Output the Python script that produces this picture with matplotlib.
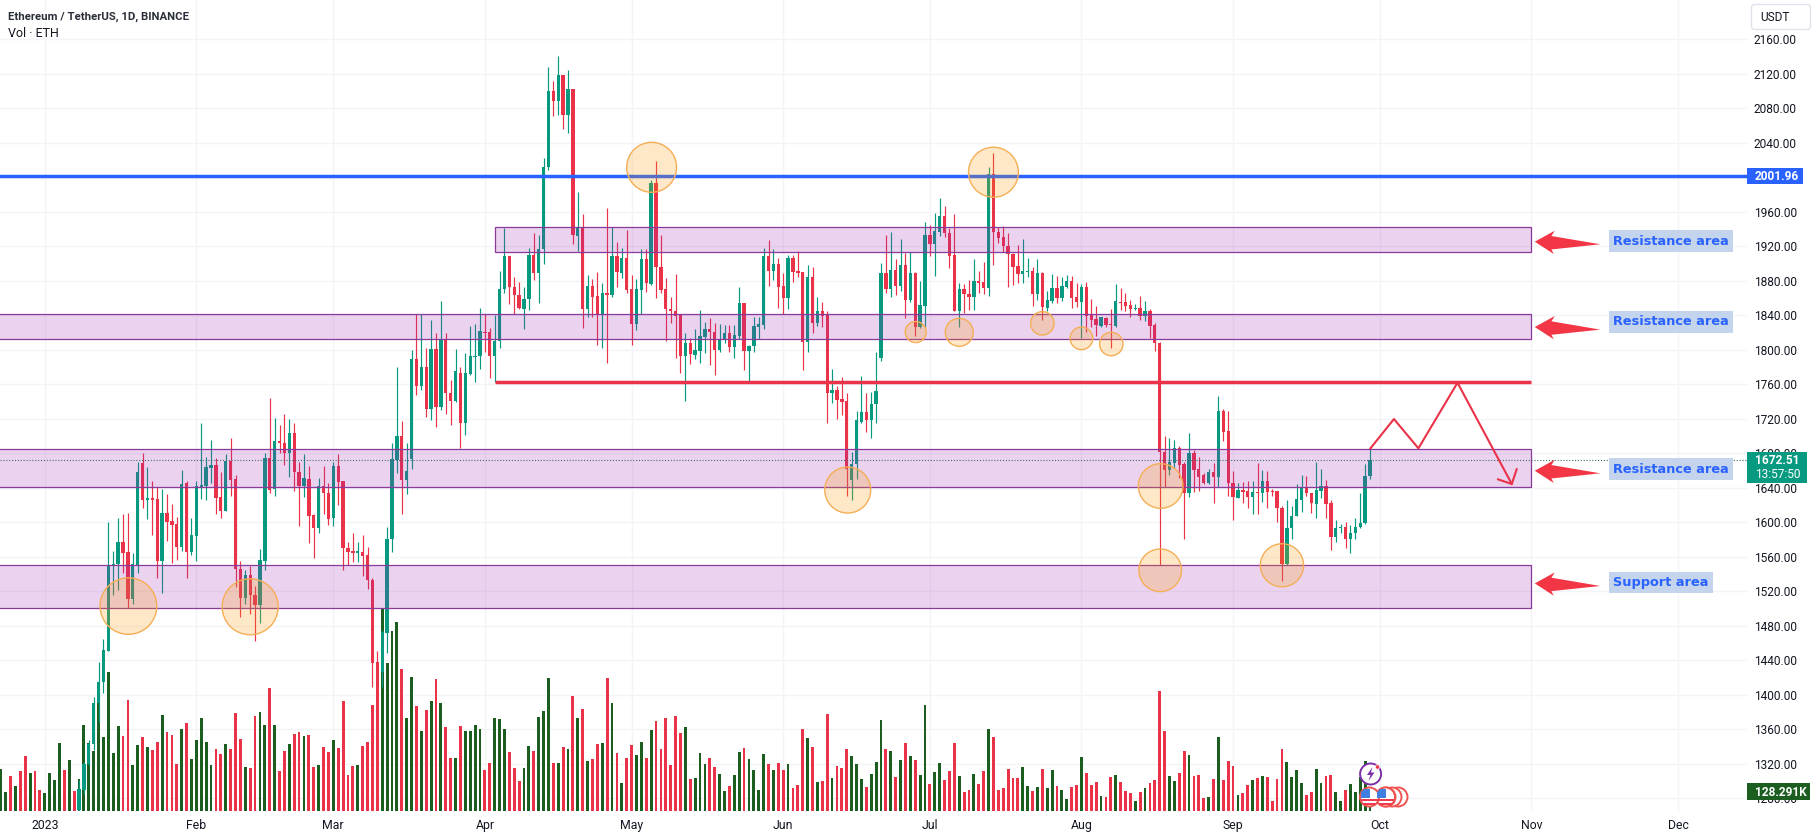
import numpy as np
import matplotlib
matplotlib.use('Agg')
from matplotlib import pyplot as plt
from matplotlib.patches import Rectangle, Ellipse, Circle, FancyBboxPatch, Polygon

# --- Data ---
# x is days since 2023-01-01, prices in USDT, volumes in thousands of ETH

first_candle_day = 7

opens = [
    1266, 1289, 1320, 1343, 1390, 1415, 1451, 1550, 1551, 1577,
    1565, 1511, 1549.5, 1669, 1626, 1627.6, 1627, 1555, 1611, 1601,
    1598, 1571.5, 1646, 1566, 1584, 1640, 1642, 1663, 1666, 1629,
    1613, 1671, 1650, 1546, 1512, 1539, 1515.5, 1504, 1555, 1675,
    1638.5, 1694, 1691.5, 1680, 1703, 1658.5, 1642, 1650, 1608, 1593.6,
    1642, 1633.4, 1605, 1665.5, 1648, 1570, 1566.5, 1564, 1566, 1562,
    1533, 1437, 1426.5, 1472, 1580, 1672, 1700, 1649, 1673, 1789,
    1758, 1780.5, 1731, 1801, 1734, 1813, 1749.5, 1741, 1773.5, 1714.7,
    1772, 1792, 1793, 1821, 1820.3, 1793, 1810, 1870, 1909, 1872.5,
    1863, 1847, 1858.5, 1910, 1889.5, 1916.6, 2011.7, 2100, 2089, 2119,
    2072.4, 2103, 1932, 1941.7, 1847, 1874, 1862.4, 1841, 1865.5, 1864,
    1908.8, 1889.5, 1907, 1870, 1830, 1869.4, 1905.4, 1876, 1993, 1895.7,
    1870, 1847, 1845.4, 1840, 1793, 1807.5, 1794, 1799, 1815, 1823.8,
    1821, 1799.8, 1812, 1819, 1803.6, 1816, 1854, 1799, 1804.8, 1827,
    1828.8, 1908.8, 1891.4, 1900, 1874, 1860.5, 1906, 1891.4, 1890, 1809.5,
    1884, 1831.5, 1845.4, 1840, 1750, 1753.4, 1742.6, 1740.6, 1649, 1667,
    1716.6, 1727.5, 1718.6, 1737, 1791, 1888.7, 1870.5, 1892.6, 1874, 1898.4,
    1857.8, 1889.5, 1826.8, 1851, 1933, 1922.4, 1937, 1955.6, 1935, 1910,
    1845.4, 1870.5, 1864.8, 1861.6, 1879.8, 1878.3, 1871.3, 2004, 1937, 1930.5,
    1920.8, 1910.8, 1896.8, 1888, 1890, 1891.8, 1864.8, 1889.5, 1848.9, 1857,
    1872, 1860.5, 1873.3, 1879.8, 1860.9, 1855.9, 1873.3, 1840.4, 1835.4, 1828,
    1836.5, 1829.6, 1827.6, 1856, 1855.5, 1851.6, 1847.4, 1849, 1839, 1845,
    1828.8, 1807.5, 1681, 1660.6, 1668.3, 1685.7, 1667.5, 1634, 1680.7, 1661.4,
    1654.4, 1645, 1658.6, 1652.8, 1729.4, 1705.8, 1645, 1628.5, 1637.4, 1636,
    1629.7, 1635, 1633.5, 1647.8, 1636.6, 1636, 1617, 1551.5, 1592.9, 1607.6,
    1625.8, 1641.3, 1634, 1621, 1636.6, 1642.4, 1622, 1583, 1592.9, 1594,
    1580, 1587, 1594, 1598.7, 1653.6,
]

closes = [
    1291, 1320, 1343, 1390, 1415, 1452, 1550, 1552, 1577, 1564,
    1511, 1551, 1658.5, 1626, 1627.6, 1626, 1555, 1611, 1600, 1597,
    1571.5, 1644, 1566, 1585, 1642, 1643, 1664, 1666, 1628.4, 1613,
    1671, 1649, 1546, 1512, 1539, 1515, 1504, 1556, 1675, 1637,
    1694, 1691.5, 1680, 1703, 1658.5, 1642, 1651, 1607.5, 1593.6, 1642,
    1633.4, 1603.6, 1665.5, 1647, 1570, 1565, 1564, 1566.5, 1561, 1533,
    1437, 1429, 1473, 1580, 1673, 1700, 1649, 1659, 1789, 1758,
    1780.5, 1731, 1801, 1734, 1813, 1749.5, 1741, 1775, 1714.7, 1773.5,
    1793, 1793, 1822, 1819, 1793, 1810, 1870.5, 1909, 1872.5, 1863,
    1848, 1859, 1910, 1889.5, 1916.6, 2011.7, 2100, 2089, 2119, 2072.4,
    2103, 1933, 1941.7, 1847, 1874, 1861.6, 1841, 1865.5, 1864, 1909,
    1890.7, 1907, 1869.4, 1830, 1870, 1905.4, 1877, 1993, 1895.7, 1869.4,
    1847, 1844.6, 1839.6, 1793, 1807.5, 1794.8, 1799.8, 1816, 1823.8, 1821,
    1799.8, 1813, 1819, 1803.6, 1817, 1854, 1799, 1804.8, 1827.6, 1830,
    1908.8, 1891.4, 1900, 1873, 1859.7, 1906, 1890.7, 1889.5, 1809.5, 1884,
    1831.5, 1845, 1839.6, 1750, 1753.4, 1741.8, 1739.8, 1661.3, 1667.5, 1718.6,
    1728, 1718, 1737, 1752, 1888.7, 1870.5, 1892.6, 1874, 1898.4, 1857.8,
    1888.7, 1826.8, 1852, 1933, 1922.4, 1937.8, 1955.6, 1935, 1909, 1845.4,
    1870.5, 1864.4, 1861.6, 1879.8, 1878, 1871.3, 2004, 1937, 1930, 1920.4,
    1910.8, 1896.5, 1887.6, 1891.4, 1891.8, 1864.8, 1888.7, 1849.3, 1857.8, 1872,
    1859.7, 1874, 1879.8, 1860.5, 1855, 1873.3, 1839.6, 1834.6, 1828.8, 1837.7,
    1828.8, 1828.4, 1856.2, 1854.7, 1850.8, 1847.4, 1849, 1839, 1845, 1828,
    1807.5, 1682, 1660.6, 1669.5, 1685.7, 1666.4, 1634, 1680.7, 1660.6, 1652.8,
    1645, 1658.6, 1652.8, 1729.4, 1705, 1645, 1628.9, 1637.4, 1635.5, 1629.7,
    1635, 1633.5, 1647.8, 1635.5, 1635.5, 1616.9, 1551.5, 1592.9, 1607.6, 1626.6,
    1641.3, 1633.5, 1622, 1637.4, 1642.4, 1621, 1583, 1592.9, 1594.9, 1580,
    1587.9, 1594, 1598.7, 1653.6, 1672.51,
]

highs = [
    1301, 1322, 1347, 1397, 1438, 1464, 1600.6, 1566.5, 1605, 1609,
    1611, 1564, 1670, 1680, 1664, 1648, 1641, 1639, 1633, 1621,
    1606, 1660.5, 1648, 1604.4, 1648, 1715, 1676, 1695, 1674, 1658.5,
    1679, 1698, 1655, 1555, 1544, 1549, 1526, 1568.5, 1680.6, 1744,
    1721, 1713, 1726, 1720, 1715, 1670, 1679, 1665, 1610, 1651,
    1665, 1645, 1670, 1679, 1648, 1577, 1588, 1577, 1585, 1571.5,
    1535, 1450, 1475, 1595, 1692, 1780, 1717, 1692, 1800, 1842,
    1842, 1802.5, 1834.6, 1819, 1856.6, 1819, 1765, 1801, 1780.5, 1796,
    1827.6, 1829.6, 1848, 1842, 1825, 1840, 1891.4, 1941.7, 1909, 1885,
    1879, 1873, 1918, 1936, 1933, 2022, 2128.5, 2112, 2141, 2119,
    2124.6, 2103, 1982.7, 1957.5, 1887, 1881.8, 1890, 1877, 1964, 1942.9,
    1925.5, 1917.7, 1939, 1886.8, 1882, 1917, 1917, 1997, 2019, 1933,
    1883.7, 1861, 1888, 1842, 1819, 1814, 1823.8, 1846, 1832, 1837,
    1831.5, 1830, 1828.8, 1828.8, 1828.8, 1873, 1854, 1805.6, 1838.4, 1837.7,
    1917.7, 1927, 1917, 1906, 1888.7, 1910, 1910, 1914.6, 1890.7, 1898.4,
    1896.5, 1861, 1855, 1845, 1777.7, 1758, 1768.8, 1749.5, 1682, 1729,
    1769.6, 1749.5, 1751, 1797, 1901, 1933, 1937, 1905, 1929, 1912,
    1913, 1890.7, 1880, 1948, 1945, 1959, 1976.5, 1966.8, 1941, 1957.6,
    1877, 1876, 1881, 1905.4, 1891.4, 1902, 2012.5, 2028.7, 1942.9, 1943.6,
    1935, 1912, 1921.6, 1928.6, 1906, 1896.5, 1905, 1889.9, 1868, 1888,
    1885.6, 1884, 1886.8, 1885.6, 1877, 1876, 1879, 1859, 1850.8, 1838.5,
    1838.5, 1847.4, 1876.4, 1871.3, 1865.5, 1857.8, 1852.8, 1862.4, 1857, 1847,
    1830.7, 1809.4, 1700, 1697.3, 1695.4, 1688.4, 1670, 1703, 1683.8, 1676,
    1656.7, 1661.4, 1669, 1746.4, 1731.3, 1729.4, 1659.4, 1645, 1647, 1647.8,
    1648, 1669, 1660.6, 1659.4, 1638, 1636, 1618.8, 1625.8, 1619.2, 1644,
    1654.8, 1653.6, 1634, 1670, 1661.8, 1649, 1625.8, 1602.6, 1597.6, 1600.6,
    1596.8, 1605, 1634, 1668, 1686.9,
]

lows = [
    1262, 1285, 1318, 1336, 1368, 1402, 1451, 1516, 1521, 1541,
    1501, 1505, 1541, 1616, 1604, 1585, 1535, 1518, 1578.5, 1553,
    1556, 1567, 1535, 1562, 1555, 1627, 1626, 1646, 1609, 1605,
    1613, 1630, 1525, 1490, 1505, 1493, 1462.5, 1483, 1544.5, 1634,
    1630, 1680, 1666, 1652, 1636.5, 1595.5, 1629, 1576, 1558, 1587,
    1609, 1597, 1595.5, 1620, 1544.5, 1550, 1554, 1554, 1537, 1523,
    1409, 1370, 1409, 1448.5, 1566, 1656.5, 1610, 1633, 1662, 1747.6,
    1753, 1722, 1718, 1711, 1730, 1726, 1713, 1740, 1685.7, 1701,
    1771, 1763, 1778, 1798, 1767, 1763, 1802.5, 1865.5, 1853, 1842,
    1847, 1824, 1846, 1881, 1854, 1900, 2008.6, 2071.6, 2072.4, 2056,
    2051, 1923, 1915, 1825.7, 1838.5, 1837.7, 1805.6, 1802.5, 1784.3, 1861,
    1873, 1883, 1865.5, 1805.6, 1823, 1842, 1867, 1875, 1860, 1865.5,
    1810.6, 1831.5, 1791, 1773.5, 1740.6, 1784, 1789, 1785, 1796, 1782,
    1770.8, 1798, 1807.5, 1797, 1791, 1813, 1777, 1763, 1798, 1813,
    1823.8, 1874, 1881, 1848, 1841, 1847, 1879, 1884, 1777, 1798,
    1820, 1827.6, 1827, 1715, 1738.7, 1719.7, 1724, 1630, 1625.7, 1650,
    1714.7, 1705, 1698, 1715.5, 1787, 1866, 1861.6, 1863.6, 1868.6, 1837,
    1856, 1816.4, 1825, 1826, 1909, 1886, 1932.4, 1930.5, 1895, 1845,
    1826.8, 1842.3, 1846, 1846, 1865.5, 1864.8, 1862.8, 1898.4, 1923.5, 1913.9,
    1873.3, 1875, 1877, 1878, 1884.9, 1850.8, 1857.8, 1834.6, 1845, 1854.7,
    1854.7, 1857, 1871.3, 1849, 1849.3, 1813.3, 1821, 1827, 1816, 1827,
    1826, 1802.5, 1827, 1846, 1845.4, 1838.5, 1846, 1834.6, 1833.8, 1813.3,
    1799, 1550.4, 1640.5, 1654.8, 1662.5, 1651, 1580, 1629.6, 1635.4, 1636.6,
    1644.3, 1644, 1622.7, 1641, 1694.6, 1630.4, 1603, 1628.5, 1622, 1616,
    1609, 1609.6, 1623.8, 1616, 1630.8, 1600, 1531.8, 1550.4, 1581, 1607,
    1612, 1630.4, 1611, 1604.5, 1627.7, 1605, 1567.8, 1577, 1588, 1570.5,
    1564, 1581, 1593, 1598, 1649.7,
]

first_volume_day = -9

volumes = [
    279, 124, 234, 167, 270, 369, 257, 270, 140, 117,
    252, 207, 459, 275, 342, 135, 214, 578, 459, 405,
    725, 500, 934, 392, 572, 504, 747, 308, 443, 500,
    428, 410, 466, 646, 529, 511, 315, 549, 594, 349,
    477, 623, 466, 308, 416, 383, 450, 416, 657, 484,
    293, 288, 639, 664, 578, 826, 578, 268, 403, 450,
    518, 529, 504, 511, 293, 306, 428, 394, 477, 421,
    740, 241, 302, 308, 437, 466, 713, 1006, 1366, 995,
    1215, 1271, 954, 628, 902, 707, 538, 680, 740, 887,
    725, 563, 353, 356, 572, 538, 538, 578, 551, 275,
    320, 623, 617, 551, 394, 288, 200, 288, 437, 403,
    630, 673, 893, 320, 320, 428, 416, 774, 628, 684,
    335, 349, 450, 459, 898, 729, 392, 185, 358, 443,
    376, 464, 358, 545, 605, 416, 626, 308, 639, 524,
    565, 214, 218, 389, 315, 353, 295, 248, 133, 164,
    241, 396, 423, 349, 275, 140, 383, 315, 275, 322,
    275, 315, 153, 173, 551, 491, 430, 194, 200, 653,
    221, 302, 288, 416, 369, 315, 214, 160, 248, 329,
    612, 416, 403, 227, 342, 457, 369, 342, 241, 713,
    180, 261, 322, 207, 268, 457, 234, 126, 140, 248,
    180, 268, 551, 497, 140, 153, 281, 221, 221, 295,
    167, 133, 160, 281, 153, 275, 167, 140, 79, 160,
    173, 362, 254, 173, 194, 99, 92, 227, 241, 194,
    133, 119, 65, 126, 153, 187, 207, 808, 538, 234,
    200, 254, 403, 376, 234, 241, 86, 92, 214, 497,
    207, 335, 302, 106, 119, 173, 207, 221, 234, 227,
    65, 214, 416, 329, 227, 275, 187, 106, 126, 281,
    187, 234, 241, 126, 65, 140, 180, 126, 230, 333,
    128.291,
]

# direction of the volume bars older than the first visible candle
early_volume_up = [True, True, False, True, False, False, True, False, False,
                   True, True, True, True, False, True, False]

month_days = [0, 31, 59, 90, 120, 151, 181, 212, 243, 273, 304, 334]
month_labels = ['2023', 'Feb', 'Mar', 'Apr', 'May', 'Jun', 'Jul', 'Aug', 'Sep', 'Oct', 'Nov', 'Dec']
price_ticks = np.arange(1280, 2161, 40)

# bottom, top, first day of each band (None = runs off the left edge)
zone_bottoms = [1913, 1813, 1640.5, 1501]
zone_tops = [1942, 1842, 1685, 1550]
zone_starts = [92, None, None, None]
zone_end = 304

blue_level = 2001.96
red_level = 1763
last_price = 1672.51

circle_days = [17.1, 42.0, 124.1, 194.0, 164.2, 228.2, 178.1, 187.0, 204.0, 212.0, 218.1, 228.1, 253.0]
circle_prices = [1502.7, 1501.9, 2011.7, 2006, 1637.3, 1642, 1820.6, 1820.3, 1830.7, 1813.3, 1806.7, 1544.2, 1550]
circle_day_radii = [5.8, 5.73, 5.1, 5.1, 4.7, 4.56, 2.15, 2.86, 2.39, 2.31, 2.39, 4.36, 4.42]
circle_price_radii = [32.8, 32.5, 29, 29, 26.7, 25.9, 12.2, 16.2, 13.6, 13.1, 13.6, 24.7, 25]

path_days = [271.1, 275.9, 280.9, 288.9, 300]
path_prices = [1685.7, 1719.7, 1685.7, 1761.8, 1644.3]
path_head_days = [297.2, 300, 301]
path_head_prices = [1649.7, 1644.3, 1661.4]

arrow_tip_day = 304.7
arrow_tip_prices = [1925.4, 1826.4, 1659.7, 1529]
arrow_shape_days = [0, 4.1, 3.4, 13.4, 3.4, 3.9]
arrow_shape_prices = [0, 12.8, 6.6, -3.0, -9.0, -14.3]

label_texts = ['Resistance area', 'Resistance area', 'Resistance area', 'Support area']
label_prices = [1925.9, 1832.6, 1661.4, 1530]
label_day = 320.7

# --- Figure setup ---
W, H = 1815, 839
AXIS_RIGHT, AXIS_BOTTOM = 1747, 810.7

UP = '#089981'
DOWN = '#ea3249'
VOL_UP = '#1b5e20'
VOL_DOWN = '#ea3249'
BLUE = '#2962ff'
TEXT = '#131722'
GRID = '#f3f4f8'
UI_FONT = ['Roboto', 'DejaVu Sans']

fig = plt.figure(figsize=(W / 100, H / 100), dpi=100, facecolor='white')
rect = [0, 1 - AXIS_BOTTOM / H, AXIS_RIGHT / W, AXIS_BOTTOM / H]

ax_vol = fig.add_axes(rect, zorder=1)
ax = fig.add_axes(rect, zorder=2)
ax.patch.set_visible(False)

x_min, x_max = -9.16, 348.1
y_min, y_max = 1265.3, 2205.8

# --- Volume ---
vol_days = first_volume_day + np.arange(len(volumes))
vol_up = early_volume_up + [c >= o for o, c in zip(opens, closes)]
vol_colors = [VOL_UP if up else VOL_DOWN for up in vol_up]
ax_vol.bar(vol_days, volumes, width=0.58, color=vol_colors, linewidth=0)
ax_vol.set_xlim(x_min, x_max)
ax_vol.set_ylim(0, 5472)
ax_vol.set_xticks(month_days)
ax_vol.set_yticks([])
ax_vol.grid(axis='x', color=GRID, lw=1)
ax_vol.set_axisbelow(True)
ax_vol.tick_params(length=0, labelbottom=False)
for s in ax_vol.spines.values():
    s.set_visible(False)

# horizontal grid goes under the bars too
for p in price_ticks:
    ax_vol.axhline((p - y_min) / (y_max - y_min) * 5472, color=GRID, lw=1, zorder=0)

# --- Candles ---
days = first_candle_day + np.arange(len(opens))
opens_a = np.array(opens)
closes_a = np.array(closes)
candle_colors = [UP if c >= o else DOWN for o, c in zip(opens, closes)]
ax.vlines(days, lows, highs, colors=candle_colors, lw=0.85, zorder=2)
ax.bar(days, np.abs(closes_a - opens_a), bottom=np.minimum(opens_a, closes_a),
       width=0.68, color=candle_colors, linewidth=0, zorder=2.1)

# --- Drawings ---
for bottom, top, start in zip(zone_bottoms, zone_tops, zone_starts):
    left = x_min - 5 if start is None else start
    ax.add_patch(Rectangle((left, bottom), zone_end - left, top - bottom,
                           facecolor=(0.61, 0.15, 0.69, 0.2), edgecolor='#8a3a98', lw=0.9, zorder=3))

ax.axhline(blue_level, color=BLUE, lw=2.5, zorder=4)
ax.plot([92, zone_end], [red_level, red_level], color=DOWN, lw=2.5, zorder=4, solid_capstyle='butt')
ax.axhline(last_price, color='#3c6e66', lw=0.8, ls=(0, (1, 1.6)), zorder=3.5)

for d, p, rd, rp in zip(circle_days, circle_prices, circle_day_radii, circle_price_radii):
    ax.add_patch(Ellipse((d, p), 2 * rd, 2 * rp, facecolor=(1.0, 0.6, 0.0, 0.22),
                         edgecolor='#f4ae55', lw=1.0, zorder=5))

ax.plot(path_days, path_prices, color=DOWN, lw=1.5, zorder=6)
ax.plot(path_head_days, path_head_prices, color=DOWN, lw=1.5, zorder=6)

for tip in arrow_tip_prices:
    xs = [arrow_tip_day + d for d in arrow_shape_days]
    ys = [tip + p for p in arrow_shape_prices]
    ax.fill(xs, ys, color='#f23645', lw=0, zorder=6)

for txt, p in zip(label_texts, label_prices):
    ax.text(label_day, p, txt, color=BLUE, fontsize=9.3, fontweight='bold', family='DejaVu Sans',
            va='center', ha='left', zorder=6,
            bbox=dict(facecolor='#c3d4ec', edgecolor='none', pad=3.2))

# --- Axes ---
ax.set_xlim(x_min, x_max)
ax.set_ylim(y_min, y_max)
ax.set_xticks(month_days)
ax.set_xticklabels(month_labels, family=UI_FONT, fontsize=8.8, color=TEXT)
ax.yaxis.tick_right()
ax.set_yticks(price_ticks)
ax.set_yticklabels(['%.2f' % p for p in price_ticks], family=UI_FONT, fontsize=8.6, color=TEXT)
ax.tick_params(axis='x', length=0, pad=6)
ax.tick_params(axis='y', length=0, pad=5)
for s in ax.spines.values():
    s.set_visible(False)

# --- Overlay in picture pixels: header, price tags, icons ---
ov = fig.add_axes([0, 0, 1, 1], zorder=5)
ov.set_xlim(0, W)
ov.set_ylim(H, 0)
ov.axis('off')

ov.text(8.4, 16.5, 'Ethereum / TetherUS, 1D, BINANCE', family=UI_FONT, fontsize=8.2, fontweight='bold',
        color='#2a2e39', va='center')
ov.text(8.4, 33.5, 'Vol · ETH', family=UI_FONT, fontsize=9, color=TEXT, va='center')

ov.add_patch(FancyBboxPatch((1753, 6), 56, 22, boxstyle='round,pad=1.5,rounding_size=3',
                            facecolor='white', edgecolor='#e0e3eb', lw=1))
ov.text(1760, 17.3, 'USDT', family=UI_FONT, fontsize=8.6, color=TEXT, va='center')

ov.add_patch(Rectangle((1747, 168.3), 55.7, 16, facecolor=BLUE, edgecolor='none'))
ov.text(1755, 176.5, '2001.96', family=UI_FONT, fontsize=8.6, fontweight='bold', color='white', va='center')

ov.add_patch(Rectangle((1747, 452), 59.7, 30.7, facecolor=UP, edgecolor='none'))
ov.text(1755, 460.7, '1672.51', family=UI_FONT, fontsize=8.6, fontweight='bold', color='white', va='center')
ov.text(1755, 474.7, '13:57:50', family=UI_FONT, fontsize=8.6, color='white', va='center')

ov.add_patch(Rectangle((1747, 783.3), 62.8, 16.7, facecolor=VOL_UP, edgecolor='none'))
ov.text(1755, 792, '128.291K', family=UI_FONT, fontsize=8.6, fontweight='bold', color='white', va='center')

# lightning badge
ov.add_patch(Circle((1370.6, 774), 10.5, facecolor='white', edgecolor='#7b2fa8', lw=1.4))
ov.add_patch(Polygon([(1372.5, 767), (1367, 775), (1370.5, 775), (1368.5, 781), (1374.5, 772.5), (1371, 772.5)],
                     facecolor='#7b2fa8', edgecolor='none'))
ov.add_patch(Circle((1377.5, 767), 2.2, facecolor='#f23645', edgecolor='white', lw=0.5))

# calendar flags, the back ones first
for cx in [1398, 1392, 1386]:
    ov.add_patch(Circle((cx, 797), 9.5, facecolor='white', edgecolor='#ef5350', lw=1.4))
for cx in [1385.5, 1369.5]:
    face = Circle((cx, 797), 9.5, facecolor='white', edgecolor='#ef5350', lw=1.4, zorder=3)
    ov.add_patch(face)
    canton = Rectangle((cx - 8, 789), 9, 9, facecolor='#3f7fe0', edgecolor='none', zorder=3.1)
    ov.add_patch(canton)
    canton.set_clip_path(face)
    for yy in [799, 802.5]:
        band = Rectangle((cx - 9, yy), 18, 2.2, facecolor='#ef3b4e', edgecolor='none', zorder=3.1)
        ov.add_patch(band)
        band.set_clip_path(face)

fig.savefig('out.png', dpi=100)
